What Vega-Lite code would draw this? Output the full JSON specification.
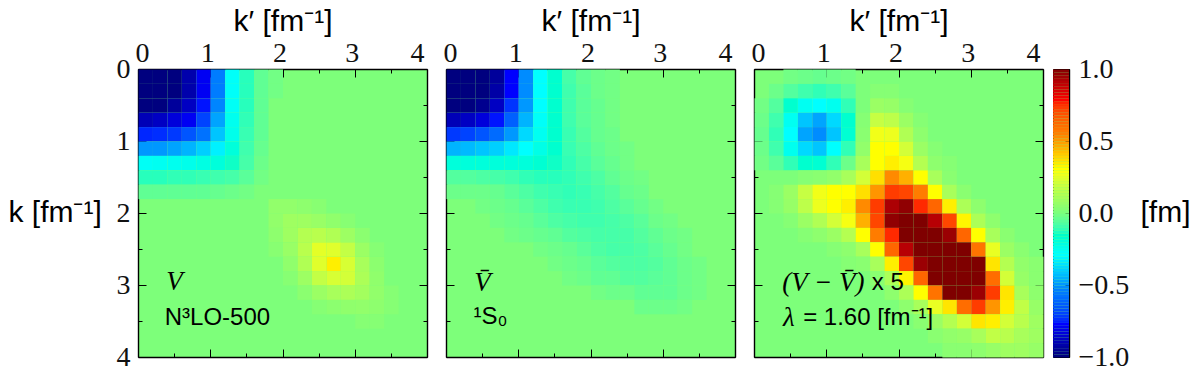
{"$schema":"https://vega.github.io/schema/vega-lite/v6.json","padding":{"left":8,"top":6,"right":0,"bottom":0},"background":"white",
"config":{"font":"Liberation Sans","view":{"stroke":null,"fill":"#7dff7a"},"text":{"color":"black"},"axis":{"grid":false,"tickColor":"black","domainColor":"black","domainWidth":1.4,"tickWidth":1,"zindex":1,"labelFont":"Liberation Serif","labelFontSize":28,"labelColor":"#111","titleFont":"Liberation Sans","titleFontSize":30,"titleFontWeight":"normal","titleBaseline":"middle"}},
"spacing":8,
"hconcat":[{"spacing":15,"hconcat":[
{"width":289,"height":288,"layer":[
{"data":{"values":[
{"k":0,"q":0,"v":-1},{"k":0,"q":0.2,"v":-1},{"k":0,"q":0.4,"v":-1},{"k":0,"q":0.6,"v":-0.92},{"k":0,"q":0.8,"v":-0.8},{"k":0,"q":1,"v":-0.55},{"k":0,"q":1.2,"v":-0.28},{"k":0,"q":1.4,"v":-0.13},{"k":0,"q":1.6,"v":-0.05},{"k":0,"q":1.8,"v":-0.02},
{"k":0.2,"q":0,"v":-1},{"k":0.2,"q":0.2,"v":-1},{"k":0.2,"q":0.4,"v":-1},{"k":0.2,"q":0.6,"v":-0.92},{"k":0.2,"q":0.8,"v":-0.8},{"k":0.2,"q":1,"v":-0.55},{"k":0.2,"q":1.2,"v":-0.28},{"k":0.2,"q":1.4,"v":-0.13},{"k":0.2,"q":1.6,"v":-0.05},{"k":0.2,"q":1.8,"v":-0.02},
{"k":0.4,"q":0,"v":-1},{"k":0.4,"q":0.2,"v":-1},{"k":0.4,"q":0.4,"v":-0.95},{"k":0.4,"q":0.6,"v":-0.88},{"k":0.4,"q":0.8,"v":-0.77},{"k":0.4,"q":1,"v":-0.53},{"k":0.4,"q":1.2,"v":-0.27},{"k":0.4,"q":1.4,"v":-0.13},{"k":0.4,"q":1.6,"v":-0.05},
{"k":0.6,"q":0,"v":-0.9},{"k":0.6,"q":0.2,"v":-0.88},{"k":0.6,"q":0.4,"v":-0.84},{"k":0.6,"q":0.6,"v":-0.8},{"k":0.6,"q":0.8,"v":-0.7},{"k":0.6,"q":1,"v":-0.48},{"k":0.6,"q":1.2,"v":-0.25},{"k":0.6,"q":1.4,"v":-0.12},{"k":0.6,"q":1.6,"v":-0.05},
{"k":0.8,"q":0,"v":-0.75},{"k":0.8,"q":0.2,"v":-0.74},{"k":0.8,"q":0.4,"v":-0.72},{"k":0.8,"q":0.6,"v":-0.66},{"k":0.8,"q":0.8,"v":-0.58},{"k":0.8,"q":1,"v":-0.42},{"k":0.8,"q":1.2,"v":-0.24},{"k":0.8,"q":1.4,"v":-0.11},{"k":0.8,"q":1.6,"v":-0.05},
{"k":1,"q":0,"v":-0.5},{"k":1,"q":0.2,"v":-0.5},{"k":1,"q":0.4,"v":-0.48},{"k":1,"q":0.6,"v":-0.45},{"k":1,"q":0.8,"v":-0.4},{"k":1,"q":1,"v":-0.33},{"k":1,"q":1.2,"v":-0.2},{"k":1,"q":1.4,"v":-0.1},{"k":1,"q":1.6,"v":-0.04},
{"k":1.2,"q":0,"v":-0.27},{"k":1.2,"q":0.2,"v":-0.26},{"k":1.2,"q":0.4,"v":-0.25},{"k":1.2,"q":0.6,"v":-0.24},{"k":1.2,"q":0.8,"v":-0.22},{"k":1.2,"q":1,"v":-0.2},{"k":1.2,"q":1.2,"v":-0.15},{"k":1.2,"q":1.4,"v":-0.09},{"k":1.2,"q":1.6,"v":-0.03},
{"k":1.4,"q":0,"v":-0.13},{"k":1.4,"q":0.2,"v":-0.13},{"k":1.4,"q":0.4,"v":-0.12},{"k":1.4,"q":0.6,"v":-0.12},{"k":1.4,"q":0.8,"v":-0.11},{"k":1.4,"q":1,"v":-0.1},{"k":1.4,"q":1.2,"v":-0.09},{"k":1.4,"q":1.4,"v":-0.06},{"k":1.4,"q":1.6,"v":-0.02},
{"k":1.6,"q":0,"v":-0.05},{"k":1.6,"q":0.2,"v":-0.05},{"k":1.6,"q":0.4,"v":-0.05},{"k":1.6,"q":0.6,"v":-0.05},{"k":1.6,"q":0.8,"v":-0.05},{"k":1.6,"q":1,"v":-0.04},{"k":1.6,"q":1.2,"v":-0.03},{"k":1.6,"q":1.4,"v":-0.02},
{"k":1.8,"q":1.8,"v":0.05},{"k":2,"q":2,"v":0.08},{"k":2.2,"q":2.2,"v":0.13},{"k":2.4,"q":2.4,"v":0.24},{"k":2.6,"q":2.6,"v":0.33},{"k":2.8,"q":2.8,"v":0.2},{"k":3,"q":3,"v":0.09},{"k":3.2,"q":3.2,"v":0.04},
{"k":1.8,"q":2,"v":0.05},{"k":2,"q":1.8,"v":0.05},{"k":2,"q":2.2,"v":0.08},{"k":2.2,"q":2,"v":0.08},{"k":2.2,"q":2.4,"v":0.14},{"k":2.4,"q":2.2,"v":0.14},{"k":2.4,"q":2.6,"v":0.23},{"k":2.6,"q":2.4,"v":0.23},{"k":2.6,"q":2.8,"v":0.21},{"k":2.8,"q":2.6,"v":0.21},{"k":2.8,"q":3,"v":0.11},{"k":3,"q":2.8,"v":0.11},{"k":3,"q":3.2,"v":0.05},{"k":3.2,"q":3,"v":0.05},{"k":3.2,"q":3.4,"v":0.02},{"k":3.4,"q":3.2,"v":0.02},
{"k":1.8,"q":2.2,"v":0.04},{"k":2.2,"q":1.8,"v":0.04},{"k":2,"q":2.4,"v":0.065},{"k":2.4,"q":2,"v":0.065},{"k":2.2,"q":2.6,"v":0.12},{"k":2.6,"q":2.2,"v":0.12},{"k":2.4,"q":2.8,"v":0.165},{"k":2.8,"q":2.4,"v":0.165},{"k":2.6,"q":3,"v":0.1},{"k":3,"q":2.6,"v":0.1},{"k":2.8,"q":3.2,"v":0.045},{"k":3.2,"q":2.8,"v":0.045},{"k":3,"q":3.4,"v":0.02},{"k":3.4,"q":3,"v":0.02},
{"k":1.8,"q":2.4,"v":0.025},{"k":2.4,"q":1.8,"v":0.025},{"k":2,"q":2.6,"v":0.045},{"k":2.6,"q":2,"v":0.045},{"k":2.2,"q":2.8,"v":0.075},{"k":2.8,"q":2.2,"v":0.075},{"k":2.4,"q":3,"v":0.07},{"k":3,"q":2.4,"v":0.07},{"k":2.6,"q":3.2,"v":0.035},{"k":3.2,"q":2.6,"v":0.035},
{"k":2,"q":2.8,"v":0.024},{"k":2.8,"q":2,"v":0.024},{"k":2.2,"q":3,"v":0.033},{"k":3,"q":2.2,"v":0.033},{"k":2.4,"q":3.2,"v":0.02},{"k":3.2,"q":2.4,"v":0.02}
]},"mark":{"type":"rect"},"encoding":{
"x":{"field":"q","type":"quantitative","bin":{"binned":true,"step":0.2},"scale":{"domain":[0,4],"nice":false},"axis":{"orient":"top","title":"k′ [fm⁻¹]","titleY":-48,"values":[0,0.5,1,1.5,2,2.5,3,3.5,4],"format":".0f","labelExpr":"datum.value%1==0?datum.label:''","tickSize":{"condition":{"test":"datum.value%1==0","value":-8},"value":-4},"labelPadding":10,"labelOffset":-3}},
"y":{"field":"k","type":"quantitative","bin":{"binned":true,"step":0.2},"scale":{"domain":[0,4],"nice":false,"reverse":true},"axis":{"orient":"left","title":"k [fm⁻¹]","titleAngle":0,"titleAlign":"left","titleX":-130,"titleY":143,"values":[0,0.5,1,1.5,2,2.5,3,3.5,4],"format":".0f","labelExpr":"datum.value%1==0?datum.label:''","tickSize":{"condition":{"test":"datum.value%1==0","value":-8},"value":-4},"labelPadding":16}},
"color":{"field":"v","type":"quantitative","legend":null,"scale":{"domain":[-1,-0.78,-0.54,-0.3,0,0.3,0.54,0.78,1],"range":["#00007f","#0000ff","#007fff","#00ffff","#7dff7a","#ffff00","#ff7f00","#ff0000","#7f0000"],"clamp":true}}}},
{"data":{"values":[{"k":0,"q":0}]},"mark":{"type":"rect","opacity":0},"encoding":{
"x":{"field":"q","type":"quantitative","scale":{"domain":[0,4],"nice":false},"axis":{"orient":"bottom","title":null,"labels":false,"values":[0,0.5,1,1.5,2,2.5,3,3.5,4],"tickSize":{"condition":{"test":"datum.value%1==0","value":-8},"value":-4}}},
"y":{"field":"k","type":"quantitative","scale":{"domain":[0,4],"nice":false,"reverse":true},"axis":{"orient":"right","title":null,"labels":false,"values":[0,0.5,1,1.5,2,2.5,3,3.5,4],"tickSize":{"condition":{"test":"datum.value%1==0","value":-8},"value":-4}}}}},
{"data":{"values":[{"q":0.39,"k":2.96,"t":"V"}]},"mark":{"type":"text","font":"Liberation Serif","fontStyle":"italic","fontSize":27,"align":"left"},"encoding":{"x":{"field":"q","type":"quantitative","axis":null},"y":{"field":"k","type":"quantitative","axis":null},"text":{"field":"t"}}},
{"data":{"values":[{"q":0.37,"k":3.46,"t":"N³LO-500"}]},"mark":{"type":"text","font":"Liberation Sans","fontSize":24,"align":"left"},"encoding":{"x":{"field":"q","type":"quantitative","axis":null},"y":{"field":"k","type":"quantitative","axis":null},"text":{"field":"t"}}}
],"resolve":{"axis":{"x":"independent","y":"independent"}}},
{"width":289,"height":288,"layer":[
{"data":{"values":[
{"k":0,"q":0,"v":-1},{"k":0,"q":0.2,"v":-1},{"k":0,"q":0.4,"v":-1},{"k":0,"q":0.6,"v":-0.95},{"k":0,"q":0.8,"v":-0.78},{"k":0,"q":1,"v":-0.52},{"k":0,"q":1.2,"v":-0.3},{"k":0,"q":1.4,"v":-0.17},{"k":0,"q":1.6,"v":-0.09},{"k":0,"q":1.8,"v":-0.05},{"k":0,"q":2,"v":-0.03},{"k":0,"q":2.2,"v":-0.02},
{"k":0.2,"q":0,"v":-1},{"k":0.2,"q":0.2,"v":-1},{"k":0.2,"q":0.4,"v":-1},{"k":0.2,"q":0.6,"v":-0.93},{"k":0.2,"q":0.8,"v":-0.78},{"k":0.2,"q":1,"v":-0.52},{"k":0.2,"q":1.2,"v":-0.3},{"k":0.2,"q":1.4,"v":-0.17},{"k":0.2,"q":1.6,"v":-0.1},{"k":0.2,"q":1.8,"v":-0.06},{"k":0.2,"q":2,"v":-0.03},{"k":0.2,"q":2.2,"v":-0.02},
{"k":0.4,"q":0,"v":-1},{"k":0.4,"q":0.2,"v":-1},{"k":0.4,"q":0.4,"v":-0.97},{"k":0.4,"q":0.6,"v":-0.88},{"k":0.4,"q":0.8,"v":-0.73},{"k":0.4,"q":1,"v":-0.5},{"k":0.4,"q":1.2,"v":-0.3},{"k":0.4,"q":1.4,"v":-0.17},{"k":0.4,"q":1.6,"v":-0.1},{"k":0.4,"q":1.8,"v":-0.06},{"k":0.4,"q":2,"v":-0.04},{"k":0.4,"q":2.2,"v":-0.02},
{"k":0.6,"q":0,"v":-0.9},{"k":0.6,"q":0.2,"v":-0.88},{"k":0.6,"q":0.4,"v":-0.84},{"k":0.6,"q":0.6,"v":-0.77},{"k":0.6,"q":0.8,"v":-0.63},{"k":0.6,"q":1,"v":-0.45},{"k":0.6,"q":1.2,"v":-0.28},{"k":0.6,"q":1.4,"v":-0.17},{"k":0.6,"q":1.6,"v":-0.1},{"k":0.6,"q":1.8,"v":-0.06},{"k":0.6,"q":2,"v":-0.04},{"k":0.6,"q":2.2,"v":-0.02},
{"k":0.8,"q":0,"v":-0.72},{"k":0.8,"q":0.2,"v":-0.7},{"k":0.8,"q":0.4,"v":-0.66},{"k":0.8,"q":0.6,"v":-0.6},{"k":0.8,"q":0.8,"v":-0.5},{"k":0.8,"q":1,"v":-0.38},{"k":0.8,"q":1.2,"v":-0.26},{"k":0.8,"q":1.4,"v":-0.17},{"k":0.8,"q":1.6,"v":-0.11},{"k":0.8,"q":1.8,"v":-0.07},{"k":0.8,"q":2,"v":-0.04},{"k":0.8,"q":2.2,"v":-0.03},
{"k":1,"q":0,"v":-0.45},{"k":1,"q":0.2,"v":-0.44},{"k":1,"q":0.4,"v":-0.42},{"k":1,"q":0.6,"v":-0.4},{"k":1,"q":0.8,"v":-0.35},{"k":1,"q":1,"v":-0.3},{"k":1,"q":1.2,"v":-0.23},{"k":1,"q":1.4,"v":-0.17},{"k":1,"q":1.6,"v":-0.11},{"k":1,"q":1.8,"v":-0.08},{"k":1,"q":2,"v":-0.05},{"k":1,"q":2.2,"v":-0.03},{"k":1,"q":2.4,"v":-0.02},
{"k":1.2,"q":0,"v":-0.2},{"k":1.2,"q":0.2,"v":-0.2},{"k":1.2,"q":0.4,"v":-0.2},{"k":1.2,"q":0.6,"v":-0.2},{"k":1.2,"q":0.8,"v":-0.2},{"k":1.2,"q":1,"v":-0.2},{"k":1.2,"q":1.2,"v":-0.18},{"k":1.2,"q":1.4,"v":-0.15},{"k":1.2,"q":1.6,"v":-0.12},{"k":1.2,"q":1.8,"v":-0.09},{"k":1.2,"q":2,"v":-0.06},{"k":1.2,"q":2.2,"v":-0.04},{"k":1.2,"q":2.4,"v":-0.02},
{"k":1.4,"q":0,"v":-0.07},{"k":1.4,"q":0.2,"v":-0.07},{"k":1.4,"q":0.4,"v":-0.08},{"k":1.4,"q":0.6,"v":-0.09},{"k":1.4,"q":0.8,"v":-0.1},{"k":1.4,"q":1,"v":-0.12},{"k":1.4,"q":1.2,"v":-0.13},{"k":1.4,"q":1.4,"v":-0.13},{"k":1.4,"q":1.6,"v":-0.12},{"k":1.4,"q":1.8,"v":-0.1},{"k":1.4,"q":2,"v":-0.08},{"k":1.4,"q":2.2,"v":-0.05},{"k":1.4,"q":2.4,"v":-0.03},{"k":1.4,"q":2.6,"v":-0.02},
{"k":1.6,"q":0,"v":-0.03},{"k":1.6,"q":0.2,"v":-0.03},{"k":1.6,"q":0.4,"v":-0.03},{"k":1.6,"q":0.6,"v":-0.04},{"k":1.6,"q":0.8,"v":-0.06},{"k":1.6,"q":1,"v":-0.08},{"k":1.6,"q":1.2,"v":-0.1},{"k":1.6,"q":1.4,"v":-0.11},{"k":1.6,"q":1.6,"v":-0.12},{"k":1.6,"q":1.8,"v":-0.11},{"k":1.6,"q":2,"v":-0.09},{"k":1.6,"q":2.2,"v":-0.07},{"k":1.6,"q":2.4,"v":-0.04},{"k":1.6,"q":2.6,"v":-0.03},
{"k":1.8,"q":0.4,"v":-0.02},{"k":1.8,"q":0.6,"v":-0.03},{"k":1.8,"q":0.8,"v":-0.04},{"k":1.8,"q":1,"v":-0.06},{"k":1.8,"q":1.2,"v":-0.08},{"k":1.8,"q":1.4,"v":-0.1},{"k":1.8,"q":1.6,"v":-0.11},{"k":1.8,"q":1.8,"v":-0.11},{"k":1.8,"q":2,"v":-0.1},{"k":1.8,"q":2.2,"v":-0.08},{"k":1.8,"q":2.4,"v":-0.06},{"k":1.8,"q":2.6,"v":-0.04},{"k":1.8,"q":2.8,"v":-0.02},
{"k":2,"q":0.6,"v":-0.02},{"k":2,"q":0.8,"v":-0.03},{"k":2,"q":1,"v":-0.04},{"k":2,"q":1.2,"v":-0.06},{"k":2,"q":1.4,"v":-0.08},{"k":2,"q":1.6,"v":-0.09},{"k":2,"q":1.8,"v":-0.1},{"k":2,"q":2,"v":-0.1},{"k":2,"q":2.2,"v":-0.09},{"k":2,"q":2.4,"v":-0.08},{"k":2,"q":2.6,"v":-0.06},{"k":2,"q":2.8,"v":-0.03},{"k":2,"q":3,"v":-0.02},
{"k":2.2,"q":0.8,"v":-0.02},{"k":2.2,"q":1,"v":-0.03},{"k":2.2,"q":1.2,"v":-0.04},{"k":2.2,"q":1.4,"v":-0.05},{"k":2.2,"q":1.6,"v":-0.07},{"k":2.2,"q":1.8,"v":-0.08},{"k":2.2,"q":2,"v":-0.09},{"k":2.2,"q":2.2,"v":-0.09},{"k":2.2,"q":2.4,"v":-0.09},{"k":2.2,"q":2.6,"v":-0.07},{"k":2.2,"q":2.8,"v":-0.05},{"k":2.2,"q":3,"v":-0.03},{"k":2.2,"q":3.2,"v":-0.02},
{"k":2.4,"q":1.2,"v":-0.02},{"k":2.4,"q":1.4,"v":-0.03},{"k":2.4,"q":1.6,"v":-0.04},{"k":2.4,"q":1.8,"v":-0.06},{"k":2.4,"q":2,"v":-0.08},{"k":2.4,"q":2.2,"v":-0.09},{"k":2.4,"q":2.4,"v":-0.09},{"k":2.4,"q":2.6,"v":-0.08},{"k":2.4,"q":2.8,"v":-0.06},{"k":2.4,"q":3,"v":-0.04},{"k":2.4,"q":3.2,"v":-0.02},
{"k":2.6,"q":1.4,"v":-0.02},{"k":2.6,"q":1.6,"v":-0.03},{"k":2.6,"q":1.8,"v":-0.04},{"k":2.6,"q":2,"v":-0.06},{"k":2.6,"q":2.2,"v":-0.07},{"k":2.6,"q":2.4,"v":-0.08},{"k":2.6,"q":2.6,"v":-0.08},{"k":2.6,"q":2.8,"v":-0.07},{"k":2.6,"q":3,"v":-0.05},{"k":2.6,"q":3.2,"v":-0.03},{"k":2.6,"q":3.4,"v":-0.02},
{"k":2.8,"q":1.6,"v":-0.02},{"k":2.8,"q":1.8,"v":-0.03},{"k":2.8,"q":2,"v":-0.05},{"k":2.8,"q":2.2,"v":-0.05},{"k":2.8,"q":2.4,"v":-0.07},{"k":2.8,"q":2.6,"v":-0.07},{"k":2.8,"q":2.8,"v":-0.06},{"k":2.8,"q":3,"v":-0.05},{"k":2.8,"q":3.2,"v":-0.03},{"k":2.8,"q":3.4,"v":-0.02},
{"k":3,"q":2,"v":-0.02},{"k":3,"q":2.2,"v":-0.03},{"k":3,"q":2.4,"v":-0.03},{"k":3,"q":2.6,"v":-0.05},{"k":3,"q":2.8,"v":-0.05},{"k":3,"q":3,"v":-0.05},{"k":3,"q":3.2,"v":-0.03},{"k":3,"q":3.4,"v":-0.02},
{"k":3.2,"q":2.6,"v":-0.03},{"k":3.2,"q":2.8,"v":-0.03},{"k":3.2,"q":3,"v":-0.03},{"k":3.2,"q":3.2,"v":-0.02}
]},"mark":{"type":"rect"},"encoding":{
"x":{"field":"q","type":"quantitative","bin":{"binned":true,"step":0.2},"scale":{"domain":[0,4],"nice":false},"axis":{"orient":"top","title":"k′ [fm⁻¹]","titleY":-48,"values":[0,0.5,1,1.5,2,2.5,3,3.5,4],"format":".0f","labelExpr":"datum.value%1==0?datum.label:''","tickSize":{"condition":{"test":"datum.value%1==0","value":-8},"value":-4},"labelPadding":10,"labelOffset":-3}},
"y":{"field":"k","type":"quantitative","bin":{"binned":true,"step":0.2},"scale":{"domain":[0,4],"nice":false,"reverse":true},"axis":{"orient":"left","title":null,"labels":false,"values":[0,0.5,1,1.5,2,2.5,3,3.5,4],"tickSize":{"condition":{"test":"datum.value%1==0","value":-8},"value":-4}}},
"color":{"field":"v","type":"quantitative","legend":null,"scale":{"domain":[-1,-0.78,-0.54,-0.3,0,0.3,0.54,0.78,1],"range":["#00007f","#0000ff","#007fff","#00ffff","#7dff7a","#ffff00","#ff7f00","#ff0000","#7f0000"],"clamp":true}}}},
{"data":{"values":[{"k":0,"q":0}]},"mark":{"type":"rect","opacity":0},"encoding":{
"x":{"field":"q","type":"quantitative","scale":{"domain":[0,4],"nice":false},"axis":{"orient":"bottom","title":null,"labels":false,"values":[0,0.5,1,1.5,2,2.5,3,3.5,4],"tickSize":{"condition":{"test":"datum.value%1==0","value":-8},"value":-4}}},
"y":{"field":"k","type":"quantitative","scale":{"domain":[0,4],"nice":false,"reverse":true},"axis":{"orient":"right","title":null,"labels":false,"values":[0,0.5,1,1.5,2,2.5,3,3.5,4],"tickSize":{"condition":{"test":"datum.value%1==0","value":-8},"value":-4}}}}},
{"data":{"values":[{"q":0.39,"k":2.97,"t":"V̄"}]},"mark":{"type":"text","font":"Liberation Serif","fontStyle":"italic","fontSize":27,"align":"left"},"encoding":{"x":{"field":"q","type":"quantitative","axis":null},"y":{"field":"k","type":"quantitative","axis":null},"text":{"field":"t"}}},
{"data":{"values":[{"q":0.38,"k":3.44,"t":"¹S₀"}]},"mark":{"type":"text","font":"Liberation Sans","fontSize":24,"align":"left"},"encoding":{"x":{"field":"q","type":"quantitative","axis":null},"y":{"field":"k","type":"quantitative","axis":null},"text":{"field":"t"}}}
],"resolve":{"axis":{"x":"independent","y":"independent"}}},
{"width":289,"height":288,"layer":[
{"data":{"values":[
{"k":0,"q":0.4,"v":-0.02},{"k":0,"q":0.6,"v":-0.03},{"k":0,"q":0.8,"v":-0.04},{"k":0,"q":1,"v":-0.03},{"k":0,"q":1.2,"v":-0.02},
{"k":0.2,"q":0.2,"v":-0.03},{"k":0.2,"q":0.4,"v":-0.07},{"k":0.2,"q":0.6,"v":-0.1},{"k":0.2,"q":0.8,"v":-0.12},{"k":0.2,"q":1,"v":-0.1},{"k":0.2,"q":1.2,"v":-0.06},{"k":0.2,"q":1.6,"v":0.02},{"k":0.2,"q":1.8,"v":0.02},
{"k":0.4,"q":0,"v":-0.02},{"k":0.4,"q":0.2,"v":-0.07},{"k":0.4,"q":0.4,"v":-0.17},{"k":0.4,"q":0.6,"v":-0.26},{"k":0.4,"q":0.8,"v":-0.3},{"k":0.4,"q":1,"v":-0.25},{"k":0.4,"q":1.2,"v":-0.12},{"k":0.4,"q":1.6,"v":0.07},{"k":0.4,"q":1.8,"v":0.06},{"k":0.4,"q":2,"v":0.02},
{"k":0.6,"q":0,"v":-0.03},{"k":0.6,"q":0.2,"v":-0.1},{"k":0.6,"q":0.4,"v":-0.26},{"k":0.6,"q":0.6,"v":-0.42},{"k":0.6,"q":0.8,"v":-0.48},{"k":0.6,"q":1,"v":-0.38},{"k":0.6,"q":1.2,"v":-0.17},{"k":0.6,"q":1.4,"v":0.02},{"k":0.6,"q":1.6,"v":0.17},{"k":0.6,"q":1.8,"v":0.15},{"k":0.6,"q":2,"v":0.07},{"k":0.6,"q":2.2,"v":0.02},
{"k":0.8,"q":0,"v":-0.04},{"k":0.8,"q":0.2,"v":-0.12},{"k":0.8,"q":0.4,"v":-0.3},{"k":0.8,"q":0.6,"v":-0.48},{"k":0.8,"q":0.8,"v":-0.52},{"k":0.8,"q":1,"v":-0.42},{"k":0.8,"q":1.2,"v":-0.18},{"k":0.8,"q":1.4,"v":0.03},{"k":0.8,"q":1.6,"v":0.27},{"k":0.8,"q":1.8,"v":0.26},{"k":0.8,"q":2,"v":0.12},{"k":0.8,"q":2.2,"v":0.04},
{"k":1,"q":0,"v":-0.03},{"k":1,"q":0.2,"v":-0.1},{"k":1,"q":0.4,"v":-0.25},{"k":1,"q":0.6,"v":-0.38},{"k":1,"q":0.8,"v":-0.42},{"k":1,"q":1,"v":-0.3},{"k":1,"q":1.2,"v":-0.12},{"k":1,"q":1.4,"v":0.05},{"k":1,"q":1.6,"v":0.3},{"k":1,"q":1.8,"v":0.3},{"k":1,"q":2,"v":0.2},{"k":1,"q":2.2,"v":0.07},{"k":1,"q":2.4,"v":0.02},
{"k":1.2,"q":0,"v":-0.02},{"k":1.2,"q":0.2,"v":-0.06},{"k":1.2,"q":0.4,"v":-0.12},{"k":1.2,"q":0.6,"v":-0.17},{"k":1.2,"q":0.8,"v":-0.18},{"k":1.2,"q":1,"v":-0.12},{"k":1.2,"q":1.2,"v":-0.03},{"k":1.2,"q":1.4,"v":0.1},{"k":1.2,"q":1.6,"v":0.3},{"k":1.2,"q":1.8,"v":0.33},{"k":1.2,"q":2,"v":0.28},{"k":1.2,"q":2.2,"v":0.13},{"k":1.2,"q":2.4,"v":0.04},{"k":1.2,"q":2.6,"v":0.02},
{"k":1.4,"q":0.6,"v":0.02},{"k":1.4,"q":0.8,"v":0.03},{"k":1.4,"q":1,"v":0.05},{"k":1.4,"q":1.2,"v":0.1},{"k":1.4,"q":1.4,"v":0.2},{"k":1.4,"q":1.6,"v":0.36},{"k":1.4,"q":1.8,"v":0.52},{"k":1.4,"q":2,"v":0.45},{"k":1.4,"q":2.2,"v":0.3},{"k":1.4,"q":2.4,"v":0.1},{"k":1.4,"q":2.6,"v":0.03},
{"k":1.6,"q":0.2,"v":0.02},{"k":1.6,"q":0.4,"v":0.07},{"k":1.6,"q":0.6,"v":0.17},{"k":1.6,"q":0.8,"v":0.27},{"k":1.6,"q":1,"v":0.3},{"k":1.6,"q":1.2,"v":0.3},{"k":1.6,"q":1.4,"v":0.36},{"k":1.6,"q":1.6,"v":0.5},{"k":1.6,"q":1.8,"v":0.72},{"k":1.6,"q":2,"v":0.7},{"k":1.6,"q":2.2,"v":0.55},{"k":1.6,"q":2.4,"v":0.3},{"k":1.6,"q":2.6,"v":0.1},{"k":1.6,"q":2.8,"v":0.03},
{"k":1.8,"q":0.2,"v":0.02},{"k":1.8,"q":0.4,"v":0.06},{"k":1.8,"q":0.6,"v":0.15},{"k":1.8,"q":0.8,"v":0.26},{"k":1.8,"q":1,"v":0.3},{"k":1.8,"q":1.2,"v":0.33},{"k":1.8,"q":1.4,"v":0.52},{"k":1.8,"q":1.6,"v":0.72},{"k":1.8,"q":1.8,"v":0.92},{"k":1.8,"q":2,"v":0.97},{"k":1.8,"q":2.2,"v":0.75},{"k":1.8,"q":2.4,"v":0.62},{"k":1.8,"q":2.6,"v":0.33},{"k":1.8,"q":2.8,"v":0.11},{"k":1.8,"q":3,"v":0.04},
{"k":2,"q":0.4,"v":0.02},{"k":2,"q":0.6,"v":0.07},{"k":2,"q":0.8,"v":0.12},{"k":2,"q":1,"v":0.2},{"k":2,"q":1.2,"v":0.28},{"k":2,"q":1.4,"v":0.45},{"k":2,"q":1.6,"v":0.7},{"k":2,"q":1.8,"v":0.97},{"k":2,"q":2,"v":1},{"k":2,"q":2.2,"v":1},{"k":2,"q":2.4,"v":0.9},{"k":2,"q":2.6,"v":0.7},{"k":2,"q":2.8,"v":0.32},{"k":2,"q":3,"v":0.11},{"k":2,"q":3.2,"v":0.04},
{"k":2.2,"q":0.6,"v":0.02},{"k":2.2,"q":0.8,"v":0.04},{"k":2.2,"q":1,"v":0.07},{"k":2.2,"q":1.2,"v":0.13},{"k":2.2,"q":1.4,"v":0.3},{"k":2.2,"q":1.6,"v":0.55},{"k":2.2,"q":1.8,"v":0.75},{"k":2.2,"q":2,"v":1},{"k":2.2,"q":2.2,"v":1},{"k":2.2,"q":2.4,"v":1},{"k":2.2,"q":2.6,"v":0.95},{"k":2.2,"q":2.8,"v":0.62},{"k":2.2,"q":3,"v":0.3},{"k":2.2,"q":3.2,"v":0.1},{"k":2.2,"q":3.4,"v":0.03},
{"k":2.4,"q":1,"v":0.02},{"k":2.4,"q":1.2,"v":0.04},{"k":2.4,"q":1.4,"v":0.1},{"k":2.4,"q":1.6,"v":0.3},{"k":2.4,"q":1.8,"v":0.62},{"k":2.4,"q":2,"v":0.9},{"k":2.4,"q":2.2,"v":1},{"k":2.4,"q":2.4,"v":1},{"k":2.4,"q":2.6,"v":1},{"k":2.4,"q":2.8,"v":1},{"k":2.4,"q":3,"v":0.58},{"k":2.4,"q":3.2,"v":0.25},{"k":2.4,"q":3.4,"v":0.07},{"k":2.4,"q":3.6,"v":0.03},
{"k":2.6,"q":1.2,"v":0.02},{"k":2.6,"q":1.4,"v":0.03},{"k":2.6,"q":1.6,"v":0.1},{"k":2.6,"q":1.8,"v":0.33},{"k":2.6,"q":2,"v":0.7},{"k":2.6,"q":2.2,"v":0.95},{"k":2.6,"q":2.4,"v":1},{"k":2.6,"q":2.6,"v":1},{"k":2.6,"q":2.8,"v":1},{"k":2.6,"q":3,"v":1},{"k":2.6,"q":3.2,"v":0.35},{"k":2.6,"q":3.4,"v":0.13},{"k":2.6,"q":3.6,"v":0.05},{"k":2.6,"q":3.8,"v":0.03},
{"k":2.8,"q":1.6,"v":0.03},{"k":2.8,"q":1.8,"v":0.11},{"k":2.8,"q":2,"v":0.32},{"k":2.8,"q":2.2,"v":0.62},{"k":2.8,"q":2.4,"v":1},{"k":2.8,"q":2.6,"v":1},{"k":2.8,"q":2.8,"v":1},{"k":2.8,"q":3,"v":1},{"k":2.8,"q":3.2,"v":0.6},{"k":2.8,"q":3.4,"v":0.2},{"k":2.8,"q":3.6,"v":0.06},{"k":2.8,"q":3.8,"v":0.03},
{"k":3,"q":1.8,"v":0.04},{"k":3,"q":2,"v":0.11},{"k":3,"q":2.2,"v":0.3},{"k":3,"q":2.4,"v":0.58},{"k":3,"q":2.6,"v":1},{"k":3,"q":2.8,"v":1},{"k":3,"q":3,"v":0.95},{"k":3,"q":3.2,"v":0.72},{"k":3,"q":3.4,"v":0.35},{"k":3,"q":3.6,"v":0.1},{"k":3,"q":3.8,"v":0.04},
{"k":3.2,"q":2,"v":0.04},{"k":3.2,"q":2.2,"v":0.1},{"k":3.2,"q":2.4,"v":0.25},{"k":3.2,"q":2.6,"v":0.35},{"k":3.2,"q":2.8,"v":0.6},{"k":3.2,"q":3,"v":0.72},{"k":3.2,"q":3.2,"v":0.5},{"k":3.2,"q":3.4,"v":0.33},{"k":3.2,"q":3.6,"v":0.16},{"k":3.2,"q":3.8,"v":0.06},
{"k":3.4,"q":2.2,"v":0.03},{"k":3.4,"q":2.4,"v":0.07},{"k":3.4,"q":2.6,"v":0.13},{"k":3.4,"q":2.8,"v":0.2},{"k":3.4,"q":3,"v":0.35},{"k":3.4,"q":3.2,"v":0.33},{"k":3.4,"q":3.4,"v":0.2},{"k":3.4,"q":3.6,"v":0.14},{"k":3.4,"q":3.8,"v":0.08},
{"k":3.6,"q":2.4,"v":0.03},{"k":3.6,"q":2.6,"v":0.05},{"k":3.6,"q":2.8,"v":0.06},{"k":3.6,"q":3,"v":0.1},{"k":3.6,"q":3.2,"v":0.16},{"k":3.6,"q":3.4,"v":0.14},{"k":3.6,"q":3.6,"v":0.1},{"k":3.6,"q":3.8,"v":0.08},
{"k":3.8,"q":2.6,"v":0.03},{"k":3.8,"q":2.8,"v":0.03},{"k":3.8,"q":3,"v":0.04},{"k":3.8,"q":3.2,"v":0.06},{"k":3.8,"q":3.4,"v":0.08},{"k":3.8,"q":3.6,"v":0.08},{"k":3.8,"q":3.8,"v":0.06}
]},"mark":{"type":"rect"},"encoding":{
"x":{"field":"q","type":"quantitative","bin":{"binned":true,"step":0.2},"scale":{"domain":[0,4],"nice":false},"axis":{"orient":"top","title":"k′ [fm⁻¹]","titleY":-48,"values":[0,0.5,1,1.5,2,2.5,3,3.5,4],"format":".0f","labelExpr":"datum.value%1==0?datum.label:''","tickSize":{"condition":{"test":"datum.value%1==0","value":-8},"value":-4},"labelPadding":10,"labelOffset":-3}},
"y":{"field":"k","type":"quantitative","bin":{"binned":true,"step":0.2},"scale":{"domain":[0,4],"nice":false,"reverse":true},"axis":{"orient":"left","title":null,"labels":false,"values":[0,0.5,1,1.5,2,2.5,3,3.5,4],"tickSize":{"condition":{"test":"datum.value%1==0","value":-8},"value":-4}}},
"color":{"field":"v","type":"quantitative","legend":null,"scale":{"domain":[-1,-0.78,-0.54,-0.3,0,0.3,0.54,0.78,1],"range":["#00007f","#0000ff","#007fff","#00ffff","#7dff7a","#ffff00","#ff7f00","#ff0000","#7f0000"],"clamp":true}}}},
{"data":{"values":[{"k":0,"q":0}]},"mark":{"type":"rect","opacity":0},"encoding":{
"x":{"field":"q","type":"quantitative","scale":{"domain":[0,4],"nice":false},"axis":{"orient":"bottom","title":null,"labels":false,"values":[0,0.5,1,1.5,2,2.5,3,3.5,4],"tickSize":{"condition":{"test":"datum.value%1==0","value":-8},"value":-4}}},
"y":{"field":"k","type":"quantitative","scale":{"domain":[0,4],"nice":false,"reverse":true},"axis":{"orient":"right","title":null,"labels":false,"values":[0,0.5,1,1.5,2,2.5,3,3.5,4],"tickSize":{"condition":{"test":"datum.value%1==0","value":-8},"value":-4}}}}},
{"data":{"values":[{"q":0.39,"k":2.97,"t":"(V − V̄)"},{"q":0.4,"k":3.46,"t":"λ"}]},"mark":{"type":"text","font":"Liberation Serif","fontStyle":"italic","fontSize":27,"align":"left"},"encoding":{"x":{"field":"q","type":"quantitative","axis":null},"y":{"field":"k","type":"quantitative","axis":null},"text":{"field":"t"}}},
{"data":{"values":[{"q":1.63,"k":2.97,"t":"x 5"},{"q":0.68,"k":3.46,"t":"= 1.60 [fm⁻¹]"}]},"mark":{"type":"text","font":"Liberation Sans","fontSize":24,"align":"left"},"encoding":{"x":{"field":"q","type":"quantitative","axis":null},"y":{"field":"k","type":"quantitative","axis":null},"text":{"field":"t"}}}
],"resolve":{"axis":{"x":"independent","y":"independent"}}}
]},
{"width":16,"height":288,"view":{"stroke":"black"},"data":{"values":[{"c":-1},{"c":-0.98},{"c":-0.96},{"c":-0.94},{"c":-0.92},{"c":-0.9},{"c":-0.88},{"c":-0.86},{"c":-0.84},{"c":-0.82},{"c":-0.8},{"c":-0.78},{"c":-0.76},{"c":-0.74},{"c":-0.72},{"c":-0.7},{"c":-0.68},{"c":-0.66},{"c":-0.64},{"c":-0.62},{"c":-0.6},{"c":-0.58},{"c":-0.56},{"c":-0.54},{"c":-0.52},{"c":-0.5},{"c":-0.48},{"c":-0.46},{"c":-0.44},{"c":-0.42},{"c":-0.4},{"c":-0.38},{"c":-0.36},{"c":-0.34},{"c":-0.32},{"c":-0.3},{"c":-0.28},{"c":-0.26},{"c":-0.24},{"c":-0.22},{"c":-0.2},{"c":-0.18},{"c":-0.16},{"c":-0.14},{"c":-0.12},{"c":-0.1},{"c":-0.08},{"c":-0.06},{"c":-0.04},{"c":-0.02},{"c":0},{"c":0.02},{"c":0.04},{"c":0.06},{"c":0.08},{"c":0.1},{"c":0.12},{"c":0.14},{"c":0.16},{"c":0.18},{"c":0.2},{"c":0.22},{"c":0.24},{"c":0.26},{"c":0.28},{"c":0.3},{"c":0.32},{"c":0.34},{"c":0.36},{"c":0.38},{"c":0.4},{"c":0.42},{"c":0.44},{"c":0.46},{"c":0.48},{"c":0.5},{"c":0.52},{"c":0.54},{"c":0.56},{"c":0.58},{"c":0.6},{"c":0.62},{"c":0.64},{"c":0.66},{"c":0.68},{"c":0.7},{"c":0.72},{"c":0.74},{"c":0.76},{"c":0.78},{"c":0.8},{"c":0.82},{"c":0.84},{"c":0.86},{"c":0.88},{"c":0.9},{"c":0.92},{"c":0.94},{"c":0.96},{"c":0.98}]},"mark":"rect","encoding":{
"x":{"value":0},"x2":{"value":16},
"y":{"field":"c","type":"quantitative","bin":{"binned":true,"step":0.02},"scale":{"domain":[-1,1],"nice":false},"axis":{"orient":"right","title":"[fm]","titleAngle":0,"titleAlign":"left","titleX":71,"titleY":143,"values":[-1,-0.5,0,0.5,1],"format":".1f","labelPadding":13,"tickSize":-4}},
"color":{"field":"c","type":"quantitative","legend":null,"scale":{"domain":[-1,-0.78,-0.54,-0.3,0,0.3,0.54,0.78,1],"range":["#00007f","#0000ff","#007fff","#00ffff","#7dff7a","#ffff00","#ff7f00","#ff0000","#7f0000"]}}}}
]}
